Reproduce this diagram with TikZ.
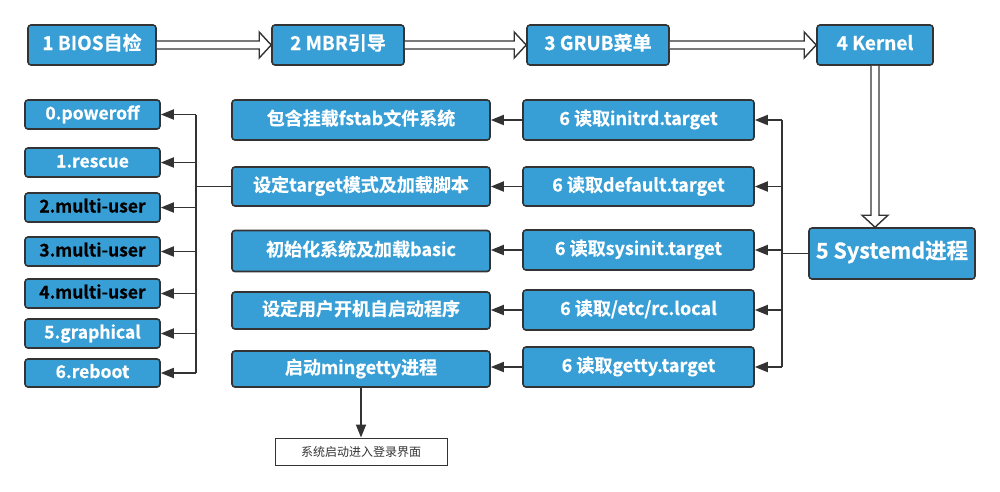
\documentclass[tikz,border=0pt]{standalone}
\usepackage{fontspec}
\setmainfont{Noto Sans CJK SC}[BoldFont={Noto Sans CJK SC Bold},BoldFeatures={FakeBold=0.6}]
\usetikzlibrary{arrows.meta,calc}
\definecolor{boxblue}{HTML}{389FD6}
\definecolor{edge}{HTML}{333333}
\begin{document}
\begin{tikzpicture}[x=1pt,y=-1pt,
  bbox/.style={rectangle,rounded corners=3pt,draw=edge,line width=1.6pt,fill=boxblue,
    text=white,font=\bfseries\fontsize{18}{20}\selectfont,inner sep=0pt,
    text height=1em,text depth=0em},
  topbox/.style={bbox,minimum height=40pt,font=\bfseries\fontsize{19}{21}\selectfont},
  lbox/.style={bbox,minimum width=135pt,minimum height=29pt,font=\bfseries\fontsize{17.5}{19}\selectfont},
  mbox/.style={bbox,minimum width=258pt},
  rbox/.style={bbox,minimum width=231pt},
  conn/.style={draw=edge,line width=1.8pt},
  arr/.style={conn,-{Triangle[length=13pt,width=10pt]}},
  hollow/.style={draw=edge,line width=1.4pt,fill=white,line join=miter}
]
\useasboundingbox (0,0) rectangle (1000,491);

% top row
\node[topbox,minimum width=128pt] (b1) at (92,45) {1 BIOS自检};
\node[topbox,minimum width=132pt] (b2) at (338,45) {2 MBR引导};
\node[topbox,minimum width=142pt] (b3) at (598,45) {3 GRUB菜单};
\node[topbox,minimum width=116pt] (b4) at (875,45) {4 Kernel};

% systemd
\node[bbox,minimum width=166pt,minimum height=51pt,font=\bfseries\fontsize{21.5}{23}\selectfont] (sd) at (892,253.5) {5 Systemd进程};

% left column
\node[lbox] (l0) at (92.5,114.5) {0.poweroff};
\node[lbox] (l1) at (92.5,162.5) {1.rescue};
\node[lbox,text=black] (l2) at (92.5,207.5) {2.multi-user};
\node[lbox,text=black] (l3) at (92.5,251.5) {3.multi-user};
\node[lbox,text=black] (l4) at (92.5,293.5) {4.multi-user};
\node[lbox] (l5) at (92.5,333.5) {5.graphical};
\node[lbox,minimum height=28pt] (l6) at (92.5,373) {6.reboot};

% middle column
\node[mbox,minimum height=40pt] (m1) at (361,120) {包含挂载fstab文件系统};
\node[mbox,minimum height=39pt] (m2) at (361,186.5) {设定target模式及加载脚本};
\node[mbox,minimum height=41pt] (m3) at (361,251) {初始化系统及加载basic};
\node[mbox,minimum height=37pt] (m4) at (361,310.5) {设定用户开机自启动程序};
\node[mbox,minimum height=36pt] (m5) at (361,369) {启动mingetty进程};

% right column
\node[rbox,minimum height=40pt] (r1) at (638.5,120) {6 读取initrd.target};
\node[rbox,minimum height=39pt] (r2) at (638.5,186.5) {6 读取default.target};
\node[rbox,minimum height=40pt] (r3) at (638.5,250) {6 读取sysinit.target};
\node[rbox,minimum height=40pt] (r4) at (638.5,310) {6 读取/etc/rc.local};
\node[rbox,minimum height=40pt] (r5) at (638.5,367) {6 读取getty.target};

% bottom box
\node[rectangle,draw=edge,line width=1pt,fill=white,minimum width=172pt,minimum height=27pt,
  inner sep=0pt,text=edge,font=\fontsize{12}{14}\selectfont] (fin) at (361,451.5) {系统启动进入登录界面};

% hollow arrows on top row
\foreach \a/\b in {b1/b2,b2/b3,b3/b4}{
  \draw[hollow] ($(\a.east)+(0,-4)$) -- ($(\b.west)+(-12,-4)$) -- ($(\b.west)+(-12,-13)$)
    -- (\b.west) -- ($(\b.west)+(-12,13)$) -- ($(\b.west)+(-12,4)$) -- ($(\a.east)+(0,4)$);
}
% hollow arrow kernel -> systemd
\coordinate (sdtop) at (b4.south |- sd.north);
\draw[hollow] ($(b4.south)+(-4,0)$) -- ($(sdtop)+(-4,-12)$) -- ($(sdtop)+(-13,-12)$)
  -- (sdtop) -- ($(sdtop)+(13,-12)$) -- ($(sdtop)+(4,-12)$) -- ($(b4.south)+(4,0)$);

% right bus
\coordinate (rb1) at (782,120);
\coordinate (rb5) at (782,367);
\draw[conn] (rb1) -- (rb5);
\draw[conn] (sd.west) -- (sd.west -| rb1);
\foreach \r in {r1,r2,r3,r4,r5}{
  \draw[arr] (\r.east -| rb1) -- (\r.east);
}

% right column -> middle column
\foreach \r/\m in {r1/m1,r2/m2,r3/m3,r4/m4,r5/m5}{
  \draw[arr] (\r.west) -- (\r.west -| \m.east);
}

% left bus
\coordinate (lb0) at (196,114.5);
\coordinate (lb6) at (196,373);
\draw[conn] (lb0) -- (lb6);
\draw[conn] (m2.west) -- (m2.west -| lb0);
\foreach \l in {l0,l1,l2,l3,l4,l5,l6}{
  \draw[arr] (\l.east -| lb0) -- (\l.east);
}

% mingetty -> final
\draw[arr] (m5.south) -- (fin.north);
\end{tikzpicture}
\end{document}
